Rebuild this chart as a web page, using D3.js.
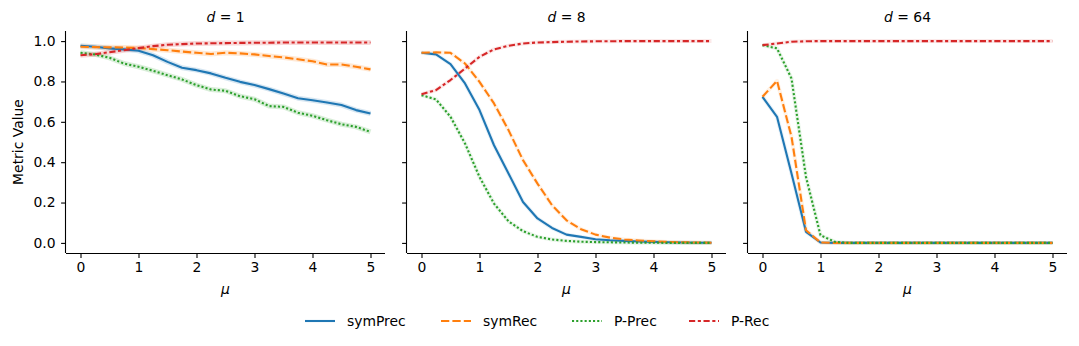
<!DOCTYPE html>
<html>
<head>
<meta charset="utf-8">
<script src="https://cdn.jsdelivr.net/npm/d3@7"></script>
<style>
	body { margin: 0; background: #fff; }
	svg text { font-family: "DejaVu Sans", sans-serif; fill: #000; }
</style>
</head>
<body>
<div id="chart"></div>
<script>
// mu values shared by every panel
const mu = [0, 0.25, 0.5, 0.75, 1, 1.25, 1.5, 1.75, 2, 2.25, 2.5, 2.75, 3, 3.25, 3.5, 3.75, 4, 4.25, 4.5, 4.75, 5];
const panels = ["1", "8", "64"];
const seriesNames = ["symPrec", "symRec", "P-Prec", "P-Rec"];
const yTicks = [0, 0.2, 0.4, 0.6, 0.8, 1.0];
const xTicks = [0, 1, 2, 3, 4, 5];

// d = 1
const symPrec1 = [0.977, 0.972, 0.964, 0.959, 0.952, 0.93, 0.897, 0.868, 0.856, 0.84, 0.818, 0.798, 0.782, 0.762, 0.74, 0.717, 0.707, 0.696, 0.683, 0.658, 0.641];
const symRec1 = [0.972, 0.97, 0.969, 0.968, 0.966, 0.96, 0.955, 0.948, 0.942, 0.936, 0.942, 0.939, 0.934, 0.926, 0.919, 0.91, 0.9, 0.884, 0.884, 0.873, 0.86];
const pPrec1 = [0.942, 0.934, 0.917, 0.889, 0.873, 0.853, 0.831, 0.81, 0.782, 0.76, 0.754, 0.727, 0.712, 0.678, 0.674, 0.645, 0.63, 0.608, 0.588, 0.575, 0.55];
const pRec1 = [0.93, 0.935, 0.945, 0.955, 0.965, 0.975, 0.982, 0.985, 0.988, 0.989, 0.99, 0.991, 0.992, 0.992, 0.993, 0.993, 0.993, 0.993, 0.993, 0.993, 0.993];

// d = 8
const symPrec8 = [0.942, 0.934, 0.886, 0.79, 0.658, 0.484, 0.344, 0.203, 0.121, 0.074, 0.041, 0.03, 0.018, 0.013, 0.01, 0.007, 0.005, 0.003, 0.002, 0.001, 0.001];
const symRec8 = [0.942, 0.944, 0.942, 0.889, 0.798, 0.691, 0.559, 0.41, 0.294, 0.187, 0.112, 0.068, 0.041, 0.026, 0.017, 0.012, 0.008, 0.005, 0.003, 0.002, 0.001];
const pPrec8 = [0.732, 0.711, 0.625, 0.493, 0.327, 0.195, 0.107, 0.058, 0.03, 0.017, 0.01, 0.006, 0.004, 0.003, 0.002, 0.001, 0.001, 0, 0, 0, 0];
const pRec8 = [0.737, 0.757, 0.807, 0.864, 0.922, 0.959, 0.977, 0.988, 0.993, 0.995, 0.997, 0.998, 0.999, 0.999, 1, 1, 1, 1, 1, 1, 1];

// d = 64
const symPrec64 = [0.724, 0.625, 0.344, 0.055, 0.002, 0, 0, 0, 0, 0, 0, 0, 0, 0, 0, 0, 0, 0, 0, 0, 0];
const symRec64 = [0.724, 0.803, 0.526, 0.063, 0.002, 0, 0, 0, 0, 0, 0, 0, 0, 0, 0, 0, 0, 0, 0, 0, 0];
const pPrec64 = [0.98, 0.964, 0.815, 0.327, 0.038, 0.005, 0, 0, 0, 0, 0, 0, 0, 0, 0, 0, 0, 0, 0, 0, 0];
const pRec64 = [0.98, 0.988, 0.997, 0.999, 1, 1, 1, 1, 1, 1, 1, 1, 1, 1, 1, 1, 1, 1, 1, 1, 1];

const panelData = [
	[symPrec1, symRec1, pPrec1, pRec1],
	[symPrec8, symRec8, pPrec8, pRec8],
	[symPrec64, symRec64, pPrec64, pRec64],
];

const colors = ["#1f77b4", "#ff7f0e", "#2ca02c", "#d62728"];
const dashes = ["none", "8.3,3.1", "2.1,2.1", "6.2,2.6,3.1,2.6"];

const width = 1079;
const height = 346;
const panelLefts = [66, 407, 748];
const panelWidth = 319;
const plotTop = 31;
const plotBottom = 253;
const fontSize = 13.9;

const svg = d3
	.select("#chart")
	.append("svg")
	.attr("width", width)
	.attr("height", height);

const yScale = d3.scaleLinear().domain([-0.05, 1.05]).range([plotBottom, plotTop]);

panels.forEach((d, p) => {
	const left = panelLefts[p];
	const xScale = d3
		.scaleLinear()
		.domain([-0.25, 5.25])
		.range([left, left + panelWidth]);

	const g = svg.append("g");

	// axes
	const xAxis = d3.axisBottom(xScale).tickValues(xTicks).tickSize(4.9).tickPadding(4.5).tickFormat(d3.format("d"));
	const gx = g.append("g").attr("transform", `translate(0, ${plotBottom})`).call(xAxis);
	const yAxis = d3
		.axisLeft(yScale)
		.tickValues(yTicks)
		.tickSize(4.9)
		.tickPadding(5.5)
		.tickFormat(p === 0 ? d3.format(".1f") : () => "");
	const gy = g.append("g").attr("transform", `translate(${left}, 0)`).call(yAxis);

	[gx, gy].forEach((ax) => {
		ax.select(".domain").attr("stroke-width", 1.1);
		ax.selectAll(".tick line").attr("stroke-width", 1.1);
		ax.selectAll(".tick text").attr("font-size", fontSize).attr("font-family", "DejaVu Sans");
	});
	gx.select(".domain").attr("d", `M${left},0.5H${left + panelWidth}`);
	gy.select(".domain").attr("d", `M-0.5,${plotTop}V${plotBottom}`);

	// lines: faint halo to stand in for the seaborn band, then the line
	const line = (vals) =>
		d3
			.line()
			.x((v, i) => xScale(mu[i]))
			.y((v) => yScale(v))(vals);

	panelData[p].forEach((vals, s) => {
		g.append("path")
			.attr("d", line(vals))
			.attr("fill", "none")
			.attr("stroke", colors[s])
			.attr("stroke-opacity", p === 0 ? 0.18 : 0.1)
			.attr("stroke-width", p === 0 ? 5 : 4)
			.attr("stroke-linejoin", "round");
	});
	panelData[p].forEach((vals, s) => {
		g.append("path")
			.attr("d", line(vals))
			.attr("fill", "none")
			.attr("stroke", colors[s])
			.attr("stroke-width", 2.1)
			.attr("stroke-dasharray", dashes[s])
			.attr("stroke-linejoin", "round");
	});

	// title
	const title = g
		.append("text")
		.attr("x", left + panelWidth / 2)
		.attr("y", 21.5)
		.attr("text-anchor", "middle")
		.attr("font-size", fontSize);
	title.append("tspan").attr("font-style", "italic").text("d");
	title.append("tspan").text(` = ${d}`);

	// x label
	g.append("text")
		.attr("x", left + panelWidth / 2)
		.attr("y", 294)
		.attr("text-anchor", "middle")
		.attr("font-size", fontSize)
		.attr("font-style", "italic")
		.text("μ");
});

// y label
svg.append("text")
	.attr("transform", `translate(23, 142) rotate(-90)`)
	.attr("text-anchor", "middle")
	.attr("font-size", fontSize)
	.text("Metric Value");

// legend
const legendX = [305, 441, 572, 689];
const legend = svg.append("g");
seriesNames.forEach((name, s) => {
	legend.append("line")
		.attr("x1", legendX[s])
		.attr("x2", legendX[s] + 30)
		.attr("y1", 321)
		.attr("y2", 321)
		.attr("stroke", colors[s])
		.attr("stroke-width", 2.1)
		.attr("stroke-dasharray", dashes[s]);
	legend.append("text")
		.attr("x", legendX[s] + 42)
		.attr("y", 326)
		.attr("font-size", fontSize)
		.text(name);
});
</script>
</body>
</html>
